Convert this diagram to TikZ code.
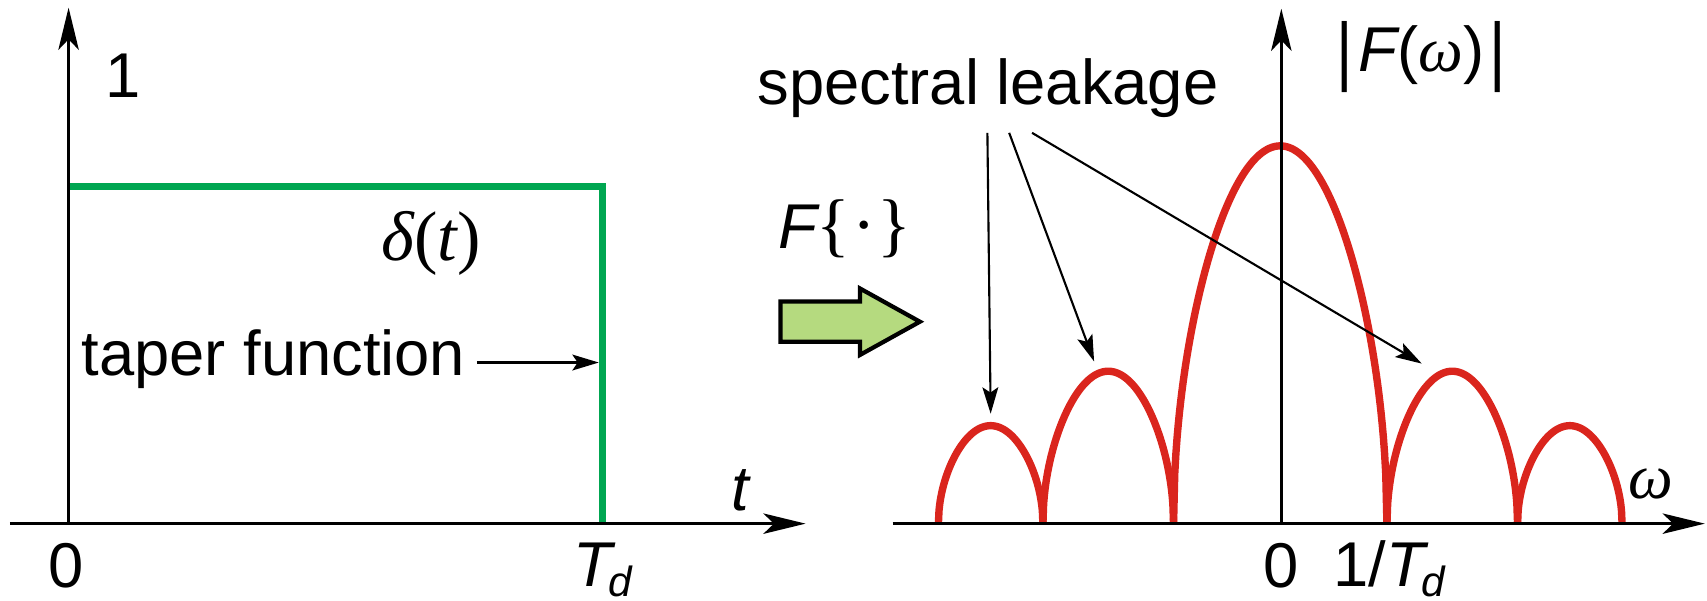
\documentclass[tikz,border=0pt]{standalone}
\usepackage{fontspec}
\setmainfont{Liberation Sans}
\newfontfamily\serifgr{Liberation Serif}
\usetikzlibrary{arrows.meta}
\definecolor{lobered}{RGB}{218,37,29}
\definecolor{tapergreen}{RGB}{0,166,81}
\definecolor{blockgreen}{RGB}{181,218,127}
\begin{document}
\begin{tikzpicture}[x=0.0108865cm, y=-0.0108865cm,
  lbl/.style={inner sep=0pt, outer sep=0pt, font=\fontsize{18}{21}\selectfont},
  axisline/.style={line width=0.9pt, -{Stealth[length=12pt, width=5.8pt, inset=3pt]}},
  pointer/.style={line width=0.6pt, -{Stealth[length=7.5pt, width=4.5pt, inset=1.5pt]}},
  lobe/.style={lobered, line width=2.1pt, line join=round},
  taper/.style={tapergreen, line width=2pt},
  blockarrow/.style={fill=blockgreen, draw=black, line width=1.2pt, line join=miter},
  ]
\useasboundingbox (0,0) rectangle (1568,552);

% ---------- left panel ----------
\coordinate (o1) at (63,481);
\coordinate (y1tip) at (63,7);
\coordinate (x1start) at (9,481);
\coordinate (x1tip) at (740,481);
\coordinate (gtop) at (63,171);
\coordinate (gcorner) at (553.5,171);
\coordinate (gbottom) at (553.5,481);

\draw[taper] (gtop) -- (gcorner) -- (gbottom);
\draw[axisline] (o1) -- (y1tip);
\draw[axisline] (x1start) -- (x1tip);

\node[lbl] (one) at (113,70) {1};
\node[lbl] (zeroL) at (61,520) {0};
\node[lbl, font=\fontsize{20}{22}\selectfont\serifgr] (delta) at (396,224) {\itshape δ\upshape(\itshape t\upshape)};
\node[lbl, anchor=base west] (tfn) at (75,345) {taper function};
\coordinate (tapertail) at (438,333);
\coordinate (tapertip) at (550,333);
\draw[pointer] (tapertail) -- (tapertip);
\node[lbl, anchor=base west] (Td) at (527,539) {\itshape T\kern-1pt\raisebox{-2.8pt}{\fontsize{12}{12}\selectfont d}};
\node[lbl] (tlab) at (680,450) {\itshape t};

% ---------- transform arrow ----------
\node[lbl] (Fop) at (776,210) {\itshape F\upshape{\serifgr\fontsize{20}{21}\selectfont\{\kern0.5pt·\kern0.5pt\}}};
\draw[blockarrow] (717,277) -- (790,277) -- (790,265) -- (845,295.5) -- (790,326) -- (790,314) -- (717,314) -- cycle;

% ---------- right panel ----------
\coordinate (o2) at (1177,481);
\coordinate (y2tip) at (1177,8);
\coordinate (x2start) at (820,481);
\coordinate (x2tip) at (1566,481);

\draw[lobe] plot[domain=0:180, samples=181, variable=\t] ({862+(\t/180)*96}, {481-90*sqrt(abs(sin(\t)))});
\draw[lobe] plot[domain=0:180, samples=181, variable=\t] ({958+(\t/180)*120}, {481-140*sqrt(abs(sin(\t)))});
\draw[lobe] plot[domain=0:180, samples=181, variable=\t] ({1078+(\t/180)*196}, {481-347*sqrt(abs(sin(\t)))});
\draw[lobe] plot[domain=0:180, samples=181, variable=\t] ({1274+(\t/180)*120}, {481-140*sqrt(abs(sin(\t)))});
\draw[lobe] plot[domain=0:180, samples=181, variable=\t] ({1394+(\t/180)*96}, {481-90*sqrt(abs(sin(\t)))});

\draw[axisline] (o2) -- (y2tip);
\draw[axisline] (x2start) -- (x2tip);

\node[lbl, anchor=base west] (Fw) at (1228,66) {\raisebox{-1.2pt}{\scalebox{1}[1.2]{|}}\kern1.5pt{\itshape F}({\serifgr\itshape ω})\kern1.5pt\raisebox{-1.2pt}{\scalebox{1}[1.2]{|}}};
\node[lbl, anchor=base] (leak) at (907.5,96) {spectral leakage};
\node[lbl, font=\fontsize{18}{21}\selectfont\serifgr\itshape] (wlab) at (1516,445) {ω};
\node[lbl] (zeroR) at (1177,520) {0};
\node[lbl, anchor=base west] (invT) at (1225,539) {1/{\itshape T}\kern-1pt\raisebox{-2.8pt}{\fontsize{12}{12}\selectfont\itshape d}};

\coordinate (la1) at (907,122);
\coordinate (la2) at (927,122);
\coordinate (la3) at (948,122);
\coordinate (lt1) at (910,380);
\coordinate (lt2) at (1005,332);
\coordinate (lt3) at (1306,334);
\draw[pointer] (la1) -- (lt1);
\draw[pointer] (la2) -- (lt2);
\draw[pointer] (la3) -- (lt3);
\end{tikzpicture}
\end{document}
